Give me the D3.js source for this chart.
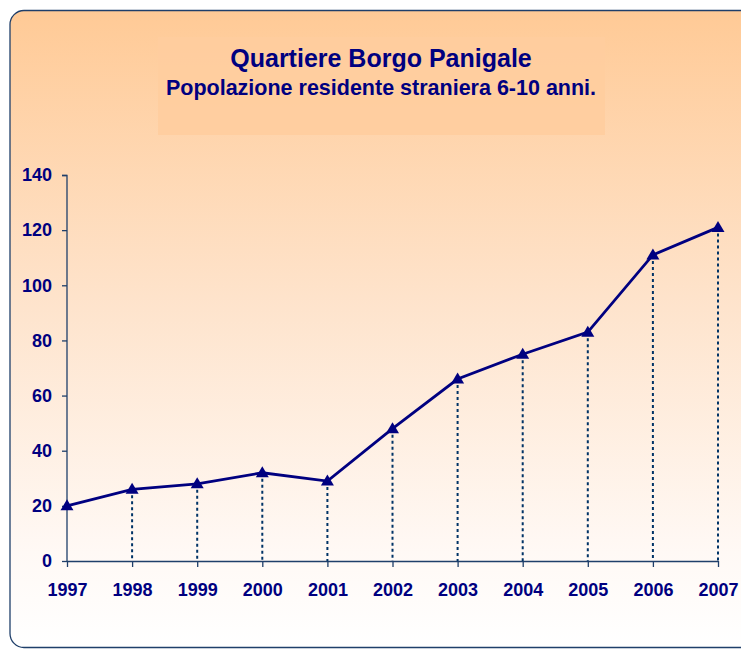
<!DOCTYPE html>
<html><head><meta charset="utf-8">
<script src="https://cdn.jsdelivr.net/npm/d3@7"></script>
<style>html,body{margin:0;padding:0;background:#fff;}svg{display:block;}</style>
</head><body>
<script>
const years = ["1997","1998","1999","2000","2001","2002","2003","2004","2005","2006","2007"];
const values = [20,26,28,32,29,48,66,75,83,111,121];
const yTicks = [0,20,40,60,80,100,120,140];
const title = "Quartiere Borgo Panigale";
const subtitle = "Popolazione residente straniera 6-10 anni.";

const W = 741, H = 649;
const FONT = "Liberation Sans, Arial, sans-serif";
const svg = d3.select("body").append("svg").attr("width", W).attr("height", H);
const defs = svg.append("defs");
const g = defs.append("linearGradient").attr("id","bg").attr("x1",0).attr("y1",0).attr("x2",0).attr("y2",1);
g.append("stop").attr("offset","0%").attr("stop-color","#FFCA96");
g.append("stop").attr("offset","45%").attr("stop-color","#FEE3CB");
g.append("stop").attr("offset","85%").attr("stop-color","#FFF9F5");
g.append("stop").attr("offset","100%").attr("stop-color","#FFFFFF");

svg.append("rect").attr("x",10).attr("y",10.5).attr("width",760).attr("height",637)
  .attr("rx",14).attr("ry",14).attr("fill","url(#bg)").attr("stroke","#1F3F6A").attr("stroke-width",1.3);

// title box
svg.append("rect").attr("x",158).attr("y",37).attr("width",447).attr("height",98)
  .attr("fill","#FFCD9E").attr("opacity",0.9);
svg.append("text").attr("x",381).attr("y",67).attr("text-anchor","middle")
  .attr("font-family",FONT).attr("font-weight","bold")
  .attr("font-size",25).attr("fill","#000080").text(title);
svg.append("text").attr("x",381).attr("y",95).attr("text-anchor","middle")
  .attr("font-family",FONT).attr("font-weight","bold")
  .attr("font-size",21.5).attr("fill","#000080").text(subtitle);

const x = d3.scalePoint().domain(years).range([67,718]);
const y = d3.scaleLinear().domain([0,140]).range([561,175]);

const axisColor = "#1F3F6A";
const yAxis = svg.append("g").attr("transform","translate(67,0)")
  .call(d3.axisLeft(y).tickValues(yTicks).tickSize(5).tickPadding(10));
yAxis.select(".domain").attr("stroke",axisColor).attr("stroke-width",1.3).attr("d","M-5,175.5H0V561.5");
yAxis.selectAll(".tick line").attr("stroke",axisColor).attr("stroke-width",1.3);
yAxis.selectAll(".tick text").attr("fill","#000080").attr("font-family",FONT)
  .attr("font-weight","bold").attr("font-size",18);

const xAxis = svg.append("g").attr("transform","translate(0,561)")
  .call(d3.axisBottom(x).tickSize(6).tickPadding(16));
xAxis.select(".domain").attr("stroke",axisColor).attr("stroke-width",1.3).attr("d","M67,0.5H718");
xAxis.selectAll(".tick line").attr("stroke",axisColor).attr("stroke-width",1.3);
xAxis.selectAll(".tick text").attr("fill","#000080").attr("font-family",FONT)
  .attr("font-weight","bold").attr("font-size",18);

const data = years.map((yr,i)=>({yr, v: values[i]}));

// drop lines
svg.append("g").selectAll("line").data(data.slice(1)).join("line")
  .attr("x1",d=>x(d.yr)).attr("x2",d=>x(d.yr))
  .attr("y1",d=>y(d.v)+6).attr("y2",y(0))
  .attr("stroke","#003366").attr("stroke-width",2).attr("stroke-dasharray","3,3");

svg.append("path").datum(data)
  .attr("d", d3.line().x(d=>x(d.yr)).y(d=>y(d.v)))
  .attr("fill","none").attr("stroke","#000080").attr("stroke-width",2.8);

svg.append("g").selectAll("path").data(data).join("path")
  .attr("transform",d=>`translate(${x(d.yr)},${y(d.v)})`)
  .attr("d","M0,-6.5L6.5,4.5L-6.5,4.5Z").attr("fill","#000080");
</script>
</body></html>
